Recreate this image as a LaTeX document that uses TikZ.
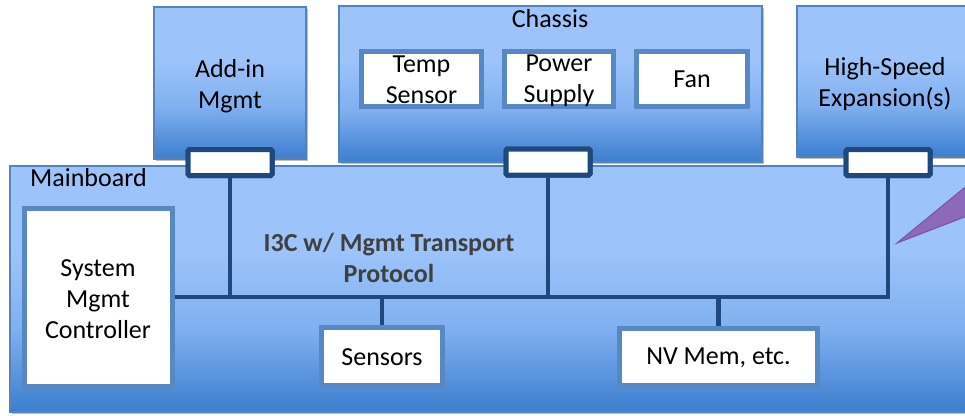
\documentclass[tikz,border=0pt]{standalone}
\usepackage{fontspec}
\setmainfont{Carlito}
\usetikzlibrary{shadows}

\definecolor{gradtop}{RGB}{157,196,250}
\definecolor{gradmid}{RGB}{128,176,240}
\definecolor{gradbot}{RGB}{60,126,206}
\definecolor{panelline}{RGB}{84,130,190}
\definecolor{whiteline}{RGB}{88,136,196}
\definecolor{navy}{RGB}{31,73,125}
\definecolor{labelgray}{RGB}{64,64,64}
\definecolor{calloutfill}{RGB}{142,104,186}
\definecolor{calloutline}{RGB}{118,84,160}

% light-to-dark blue fill used by every panel
\pgfdeclareverticalshading{panelgrad}{100bp}{%
  color(0bp)=(gradbot); color(25bp)=(gradbot); color(42bp)=(gradmid);
  color(58bp)=(gradtop); color(100bp)=(gradtop)}

\tikzset{
  txt/.style={font=\fontsize{26}{31}\selectfont, align=center, inner sep=0pt},
  panel/.style={draw=panelline, line width=2pt, shading=panelgrad,
    drop shadow={shadow xshift=2pt, shadow yshift=-2pt, opacity=0.25, fill=black},
    inner sep=0pt},
  whitebox/.style={draw=whiteline, line width=5pt, fill=white, inner sep=0pt},
  port/.style={draw=navy, line width=5pt, fill=white, rounded corners=1.5pt,
    minimum width=84pt, minimum height=26pt, inner sep=0pt},
  bus/.style={draw=navy, line width=4.5pt},
}

\begin{document}
\begin{tikzpicture}[x=1pt, y=-1pt]
  \useasboundingbox (0,0) rectangle (965,415);
  \clip (0,0) rectangle (965,415);

  % mainboard carrier
  \node[panel, minimum width=968pt, minimum height=246pt] (board) at (494,289) {};
  \node[txt, anchor=base west] (boardlbl) at (30,186) {Mainboard};

  % plug-in panels above the board
  \node[panel, minimum width=152pt, minimum height=152pt] (addin) at (230,83) {};
  \node[txt] (addinlbl) at (230,86) {Add-in\\Mgmt};

  \node[panel, minimum width=423pt, minimum height=156pt] (chassis) at (550.5,84) {};
  \node[txt] (chassislbl) at (550,19) {Chassis};

  \node[panel, minimum width=176pt, minimum height=151pt] (hse) at (885,81.5) {};
  \node[txt] (hselbl) at (885,84) {High-Speed\\Expansion(s)};

  % chassis devices
  \node[whitebox, minimum width=120pt, minimum height=55pt] (temp) at (421.5,79) {};
  \node[txt] (templbl) at (421.5,80) {Temp\\Sensor};
  \node[whitebox, minimum width=109pt, minimum height=55pt] (psu) at (559,79) {};
  \node[txt] (psulbl) at (559,81) {Power\\Supply};
  \node[whitebox, minimum width=111pt, minimum height=55pt] (fan) at (692,79) {};
  \node[txt] (fanlbl) at (692,79) {Fan};

  % devices on the mainboard
  \node[whitebox, minimum width=148pt, minimum height=178pt] (smc) at (98,297.5) {};
  \node[txt] (smclbl) at (98,299) {System\\Mgmt\\Controller};
  \node[whitebox, minimum width=121pt, minimum height=58pt] (sensors) at (382,356.5) {};
  \node[txt] (sensorslbl) at (382,357) {Sensors};
  \node[whitebox, minimum width=198pt, minimum height=57pt] (nvmem) at (718.5,357) {};
  \node[txt] (nvmemlbl) at (718.5,358) {NV Mem, etc.};

  % bus wiring
  \coordinate (busR) at (888,297);
  \node[port] (addinport) at (230,162.5) {};
  \node[port] (chassisport) at (548,162) {};
  \node[port] (hseport) at (888,162.5) {};

  \draw[bus] (smc.east |- busR) -- (busR) -- (hseport.south);
  \draw[bus] (addinport.south) -- (addinport.south |- busR);
  \draw[bus] (chassisport.south) -- (chassisport.south |- busR);
  \draw[bus] (sensors.north |- busR) -- (sensors.north);
  \draw[bus] (nvmem.north |- busR) -- (nvmem.north);

  % redraw ports over the line ends
  \node[port] at (addinport) {};
  \node[port] at (chassisport) {};
  \node[port] at (hseport) {};

  \node[txt, font=\fontsize{26}{31}\selectfont\bfseries, text=labelgray] (buslbl)
    at (389,258) {I3C w/ Mgmt Transport\\Protocol};

  % callout pointer
  \coordinate (tip) at (897,243);
  \filldraw[fill=calloutfill, draw=calloutline, line width=1pt]
    (tip) -- (975,179) -- (975,213) -- cycle;
\end{tikzpicture}
\end{document}
